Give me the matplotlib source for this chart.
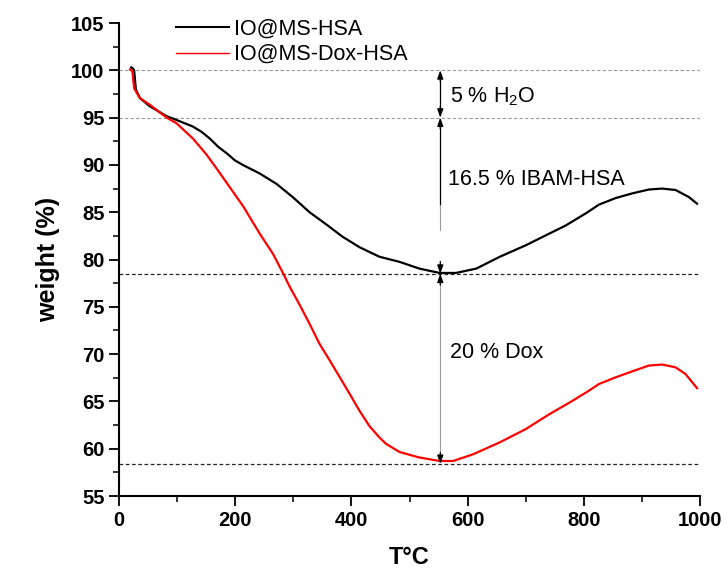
import numpy as np
from matplotlib import pyplot as plt
from matplotlib.lines import Line2D

plt.rcParams['font.family'] = ['Liberation Sans', 'DejaVu Sans']

# IO@MS-HSA (black)
t_hsa = [21, 24, 26, 29, 36, 53, 82, 99, 127, 142, 156, 171, 186, 199, 213, 242, 271,
         299, 328, 357, 385, 414, 448, 483, 517, 552, 580, 615, 655, 700, 741, 769,
         804, 826, 855, 884, 912, 935, 958, 981, 995]
w_hsa = [100.3, 100.2, 100.0, 97.95, 97.06, 96.2, 95.15, 94.75, 94.06, 93.5, 92.8, 91.9,
         91.2, 90.5, 90.0, 89.1, 88.0, 86.6, 85.0, 83.7, 82.4, 81.3, 80.3, 79.75, 79.04,
         78.58, 78.58, 79.04, 80.28, 81.5, 82.75, 83.6, 84.9, 85.8, 86.5, 87.0, 87.4,
         87.5, 87.35, 86.6, 85.9]

# IO@MS-Dox-HSA (red)
t_dox = [19, 23, 26, 36, 53, 82, 99, 127, 151, 174, 194, 214, 242, 265, 282, 294,
         311, 328, 345, 363, 380, 397, 414, 431, 448, 460, 483, 517, 552, 575, 609,
         655, 700, 741, 781, 809, 826, 855, 884, 912, 935, 958, 975, 995]
w_dox = [100.1, 99.9, 98.1, 97.06, 96.36, 95.0, 94.4, 92.8, 91.06, 89.1, 87.35, 85.6,
         82.75, 80.6, 78.6, 77.1, 75.2, 73.2, 71.1, 69.3, 67.55, 65.8, 64.0, 62.4,
         61.2, 60.5, 59.65, 59.07, 58.7, 58.7, 59.4, 60.66, 62.07, 63.66, 65.08, 66.14,
         66.84, 67.55, 68.19, 68.79, 68.9, 68.6, 67.9, 66.4]

levels_grey = [100, 95]
levels_dark = [78.5, 58.4]
arrow_t = 553

fig = plt.figure(figsize=(7.28, 5.7), dpi=100)
ax = fig.add_axes([0.1635, 0.1298, 0.798, 0.8298])

for lv in levels_grey:
    ax.plot([0, 1000], [lv, lv], ls=(0, (3, 2)), color='0.6', lw=0.8)
for lv in levels_dark:
    ax.plot([0, 1000], [lv, lv], ls=(0, (3, 2)), color='0.15', lw=0.9)

ax.plot(t_hsa, w_hsa, color='black', lw=1.6)
ax.plot(t_dox, w_dox, color='red', lw=1.6)

ah = dict(arrowstyle='-|>,head_length=0.5,head_width=0.18', color='black', lw=0.9,
          shrinkA=0, shrinkB=0)
# 5 % H2O
ax.plot([arrow_t, arrow_t], [99, 96], color='black', lw=0.9)
ax.annotate('', xy=(arrow_t, 100), xytext=(arrow_t, 98.8), arrowprops=ah)
ax.annotate('', xy=(arrow_t, 95), xytext=(arrow_t, 96.2), arrowprops=ah)
# 16.5 % IBAM-HSA
ax.plot([arrow_t, arrow_t], [94, 85.8], color='black', lw=0.9)
ax.plot([arrow_t, arrow_t], [85.8, 83.1], color='0.6', lw=0.8)
ax.annotate('', xy=(arrow_t, 95), xytext=(arrow_t, 93.8), arrowprops=ah)
ax.annotate('', xy=(arrow_t, 78.5), xytext=(arrow_t, 79.8), arrowprops=ah)
# 20 % Dox
ax.plot([arrow_t, arrow_t], [77.5, 59.4], color='0.6', lw=0.8)
ax.annotate('', xy=(arrow_t, 78.5), xytext=(arrow_t, 77.3), arrowprops=ah)
ax.annotate('', xy=(arrow_t, 58.4), xytext=(arrow_t, 59.6), arrowprops=ah)

ax.text(570, 97.2, r'5 % H$_\mathregular{2}$O', fontsize=15.5, va='center', ha='left')
ax.text(567, 88.5, '16.5 % IBAM-HSA', fontsize=15.5, va='center', ha='left')
ax.text(570, 70.2, '20 % Dox', fontsize=15.5, va='center', ha='left')

ax.set_xlim(0, 1000)
ax.set_ylim(55, 105)
ax.set_xticks(np.arange(0, 1001, 200))
ax.set_xticks(np.arange(100, 1000, 200), minor=True)
ax.set_yticks(np.arange(55, 106, 5))
ax.set_yticks(np.arange(57.5, 105, 5), minor=True)
ax.spines['top'].set_visible(False)
ax.spines['right'].set_visible(False)
for s in ['left', 'bottom']:
    ax.spines[s].set_linewidth(1.5)
ax.tick_params(which='major', direction='out', length=7, width=1.3, labelsize=14.5)
ax.tick_params(which='minor', direction='out', length=4, width=1.1)
for lab in ax.get_xticklabels() + ax.get_yticklabels():
    lab.set_fontweight('bold')

ax.set_xlabel('T°C', fontsize=17, fontweight='bold', labelpad=12)
ax.set_ylabel('weight (%)', fontsize=18, fontweight='bold', labelpad=8)

handles = [Line2D([], [], color='black', lw=1.5), Line2D([], [], color='red', lw=1.0)]
ax.legend(handles, ['IO@MS-HSA', 'IO@MS-Dox-HSA'], loc='upper left',
          bbox_to_anchor=(0.065, 1.05), frameon=False, fontsize=15.5,
          handlelength=2.45, handletextpad=0.25, labelspacing=0.2)

fig.savefig('out.png', dpi=100)
